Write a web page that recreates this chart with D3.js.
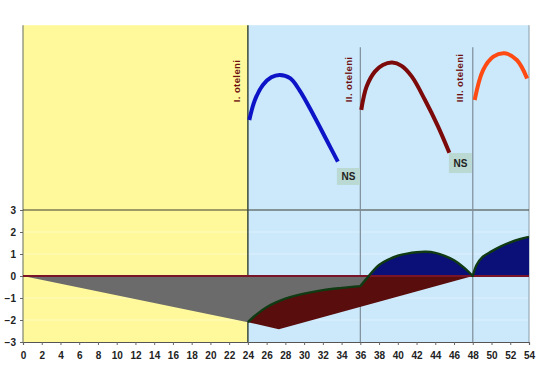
<!DOCTYPE html>
<html><head><meta charset="utf-8">
<script src="https://cdn.jsdelivr.net/npm/d3@7"></script>
<style>body{margin:0;background:#fff}svg{display:block}</style>
</head><body>
<svg id="c" width="544" height="385"></svg>
<script>
// ---- data ----
const xTickLabels = [0,2,4,6,8,10,12,14,16,18,20,22,24,26,28,30,32,34,36,38,40,42,44,46,48,50,52,54];
const yTickLabels = [-3,-2,-1,0,1,2,3];
const calvingX = [24, 36, 48];
const calvingLabels = ["I. oteleni", "II. oteleni", "III. oteleni"];
// lactation curves (upper panel)
const lact1X = [24.15, 24.75, 25.6, 26.5, 27.4, 28.5, 29.5, 31.0, 32.4, 33.6];
const lact1Y = [7.09, 8.0, 8.68, 9.03, 9.14, 8.99, 8.45, 7.32, 6.18, 5.2];
const lact2X = [36.1, 36.66, 37.55, 38.4, 39.4, 40.4, 41.5, 42.9, 44.3, 45.5];
const lact2Y = [7.55, 8.6, 9.29, 9.59, 9.7, 9.55, 9.06, 8.0, 6.79, 5.6];
const lact3X = [48.2, 49.1, 50.2, 51.4, 52.7, 53.8];
const lact3Y = [8.0, 9.36, 9.97, 10.12, 9.82, 8.98];
// NS labels: [x0, x1, yTop, yBottom]
const nsBoxX0 = [33.5, 45.45];
const nsBoxX1 = [35.95, 47.9];
const nsBoxYTop = [4.91, 5.59];
const nsBoxYBot = [4.14, 4.68];
// balance (lower panel)
const rearingX = [0, 24];
const rearingY = [0, -2.1];
const bal1X = [24, 25, 26, 27, 28, 30, 32, 34, 36];
const bal1Y = [-2.1, -1.72, -1.42, -1.2, -1.03, -0.8, -0.64, -0.54, -0.46];
const crossX = 36.9;
const bal2X = [36.9, 38, 39, 40, 41, 42, 43, 44, 45, 46, 47, 48];
const bal2Y = [0, 0.5, 0.75, 0.92, 1.02, 1.08, 1.1, 1.05, 0.92, 0.72, 0.4, 0];
const bal3X = [48, 48.4, 49, 50, 51, 52, 53, 54];
const bal3Y = [0, 0.5, 0.85, 1.12, 1.35, 1.53, 1.67, 1.78];
const debtX = [24, 27.3, 48];
const debtY = [-2.1, -2.42, 0];

// ---- scales ----
const svg = d3.select("#c");
const x = d3.scaleLinear().domain([0, 54]).range([23, 529]);
const y = d3.scaleLinear().domain([-3, 3]).range([342, 210]);
const yTop = 11.4;
const pts = (xs, ys) => xs.map((v, i) => [v, ys[i]]);
const FONT = "Liberation Sans, Arial, sans-serif";

// backgrounds
svg.append("rect").attr("x", x(0)).attr("y", y(yTop)).attr("width", x(24) - x(0)).attr("height", y(-3) - y(yTop)).attr("fill", "#fff99b");
svg.append("rect").attr("x", x(24)).attr("y", y(yTop)).attr("width", x(54) - x(24)).attr("height", y(-3) - y(yTop)).attr("fill", "#cbe9fb");

// faint gridlines
svg.append("g").selectAll("line").data([-2, -1, 1, 2]).join("line")
  .attr("x1", x(0)).attr("x2", x(54)).attr("y1", d => y(d)).attr("y2", d => y(d))
  .attr("stroke", "#ffffff").attr("stroke-opacity", 0.35).attr("stroke-width", 1);

// borders
svg.append("line").attr("x1", x(0)).attr("x2", x(0)).attr("y1", y(yTop)).attr("y2", y(-3)).attr("stroke", "#7c8470").attr("stroke-width", 1.2);
svg.append("line").attr("x1", x(54)).attr("x2", x(54)).attr("y1", y(yTop)).attr("y2", y(-3)).attr("stroke", "#8a9aa8").attr("stroke-width", 1);
svg.append("line").attr("x1", x(0)).attr("x2", x(54)).attr("y1", y(3)).attr("y2", y(3)).attr("stroke", "#3c3c30").attr("stroke-width", 1);

// calving verticals
svg.append("line").attr("x1", x(24)).attr("x2", x(24)).attr("y1", y(yTop)).attr("y2", y(-3)).attr("stroke", "#3c4a3c").attr("stroke-width", 1.5);
[36, 48].forEach(v => {
  svg.append("line").attr("x1", x(v)).attr("x2", x(v)).attr("y1", y(10.4)).attr("y2", y(-3)).attr("stroke", "#7d8c98").attr("stroke-width", 1.2);
});

// lower panel
const smooth = d3.line().x(d => x(d[0])).y(d => y(d[1])).curve(d3.curveCatmullRom.alpha(0.5));
const asL = s => "L" + s.slice(1);
const seg1 = smooth(pts(bal1X, bal1Y));
const seg2 = smooth(pts(bal2X, bal2Y));
const seg3 = smooth(pts(bal3X, bal3Y));

// gray (rearing)
const grayPath = "M" + x(rearingX[0]) + "," + y(rearingY[0]) + "L" + x(rearingX[1]) + "," + y(rearingY[1]) +
  asL(seg1) + "L" + x(crossX) + "," + y(0) + "Z";
svg.append("path").attr("d", grayPath).attr("fill", "#6b6b6b");

// maroon (debt)
const maroonPath = seg1 + "L" + x(crossX) + "," + y(0) + "L" + x(debtX[2]) + "," + y(debtY[2]) +
  "L" + x(debtX[1]) + "," + y(debtY[1]) + "Z";
svg.append("path").attr("d", maroonPath).attr("fill", "#5a0d0d");

// navy positive areas
const area = d3.area().x(d => x(d[0])).y0(y(0)).y1(d => y(d[1])).curve(d3.curveCatmullRom.alpha(0.5));
svg.append("path").attr("d", area(pts(bal2X, bal2Y))).attr("fill", "#0b0f78");
svg.append("path").attr("d", area(pts(bal3X, bal3Y))).attr("fill", "#0b0f78");

// zero line
svg.append("line").attr("x1", x(0)).attr("x2", x(54)).attr("y1", y(0)).attr("y2", y(0)).attr("stroke", "#7a1428").attr("stroke-width", 2.2);

// green balance edge
const edge = seg1 + "L" + x(crossX) + "," + y(0) + asL(seg2) + asL(seg3);
svg.append("path").attr("d", edge).attr("fill", "none").attr("stroke", "#0f3a12").attr("stroke-width", 2.4).attr("stroke-linejoin", "round");

// upper lactation curves
const nat = d3.line().x(d => x(d[0])).y(d => y(d[1])).curve(d3.curveCatmullRom.alpha(0.5));
[[lact1X, lact1Y, "#0d14c8"], [lact2X, lact2Y, "#7c0a0a"], [lact3X, lact3Y, "#ff4a14"]].forEach(([xs, ys, c]) => {
  svg.append("path").attr("d", nat(pts(xs, ys))).attr("fill", "none").attr("stroke", c).attr("stroke-width", 4).attr("stroke-linejoin", "round");
});

// calving labels
calvingLabels.forEach((t, i) => {
  const off = i === 2 ? 10 : 8;
  svg.append("text").attr("transform", `translate(${x(calvingX[i]) - off},${y(7.9)}) rotate(-90)`)
    .attr("font-family", FONT).attr("font-size", 9.5).attr("font-weight", "bold")
    .attr("letter-spacing", 0.4).attr("fill", "#6e1010").text(t);
});

// NS boxes
nsBoxX0.forEach((v, i) => {
  svg.append("rect").attr("x", x(v)).attr("y", y(nsBoxYTop[i])).attr("width", x(nsBoxX1[i]) - x(v))
    .attr("height", y(nsBoxYBot[i]) - y(nsBoxYTop[i])).attr("fill", "#b9d9d2");
  svg.append("text").attr("x", (x(v) + x(nsBoxX1[i])) / 2).attr("y", (y(nsBoxYTop[i]) + y(nsBoxYBot[i])) / 2 + 3.5)
    .attr("text-anchor", "middle").attr("font-family", FONT)
    .attr("font-size", 10).attr("font-weight", "bold").attr("fill", "#222").text("NS");
});

// axes
const xAxis = d3.axisBottom(x).tickValues(xTickLabels).tickSize(3).tickPadding(7).tickFormat(d3.format("d"));
const gx = svg.append("g").attr("transform", `translate(0,${y(-3)})`).call(xAxis);
gx.select(".domain").attr("stroke", "#555").attr("stroke-width", 1.2);
gx.selectAll(".tick line").attr("stroke", "#666");
gx.selectAll("text").attr("font-family", FONT).attr("font-size", 10).attr("font-weight", "bold").attr("fill", "#222");

const yAxis = d3.axisLeft(y).tickValues(yTickLabels).tickSize(3).tickPadding(4).tickFormat(d3.format("d"));
const gy = svg.append("g").attr("transform", `translate(${x(0)},0)`).call(yAxis);
gy.select(".domain").remove();
gy.selectAll(".tick line").attr("stroke", "#666");
gy.selectAll("text").attr("font-family", FONT).attr("font-size", 10).attr("font-weight", "bold").attr("fill", "#222");
</script>
</body></html>
